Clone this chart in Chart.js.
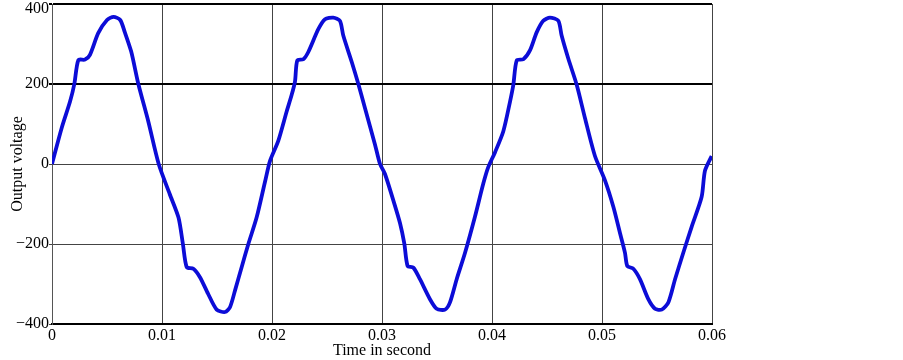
<!DOCTYPE html>
<html>
<head>
<meta charset="utf-8">
<script src="https://cdn.jsdelivr.net/npm/chart.js@4.4.1/dist/chart.umd.min.js"></script>
<style>
  html, body { margin: 0; padding: 0; background: #fff; }
  #wrap { width: 903px; height: 360px; position: relative; }
</style>
</head>
<body>
<div id="wrap"><canvas id="c" width="903" height="360"></canvas></div>
<script>
// Time samples (s)
const timeSec = [
  0, 0.00088, 0.00164, 0.00203, 0.0024, 0.0030, 0.00345, 0.0042, 0.0050, 0.0056,
  0.0062, 0.0066, 0.0072, 0.00785, 0.00875, 0.0097, 0.0107, 0.0115, 0.0119, 0.01225,
  0.01285, 0.01345, 0.0142, 0.01497, 0.01573, 0.01618, 0.01664, 0.01724, 0.01785, 0.0186,
  0.01936, 0.01982, 0.02057, 0.02134, 0.02179, 0.02209, 0.0223, 0.02285, 0.0233, 0.02421,
  0.02482, 0.02557, 0.02618, 0.02648, 0.02725, 0.02785, 0.02845, 0.02936, 0.02982, 0.03027,
  0.03103, 0.03164, 0.03203, 0.03233, 0.03285, 0.03345, 0.03436, 0.03497, 0.03573, 0.03618,
  0.03679, 0.03755, 0.03845, 0.03921, 0.03966, 0.04027, 0.04103, 0.04164, 0.04194, 0.04225,
  0.04285, 0.04345, 0.04406, 0.04466, 0.04527, 0.04603, 0.04633, 0.04694, 0.0477, 0.04845,
  0.04936, 0.05027, 0.05103, 0.05164, 0.05209, 0.0523, 0.05285, 0.05345, 0.05421, 0.05482,
  0.05543, 0.05603, 0.05664, 0.05739, 0.05815, 0.05906, 0.05936, 0.05997
];
// Output voltage values
const outputVoltage = [
  0, 90, 156, 200, 260, 261, 273, 327, 360, 368,
  360, 331, 281, 200, 107, 0, -75, -134, -200, -258,
  -262, -283, -325, -364, -370, -358, -316, -258, -200, -134,
  -45, 8, 58, 132, 173, 206, 259, 262, 280, 337,
  362, 366, 358, 321, 255, 200, 140, 49, 0, -25,
  -91, -148, -199, -255, -259, -288, -338, -362, -364, -346,
  -288, -222, -132, -49, -8, 29, 82, 156, 198, 259,
  262, 284, 329, 358, 366, 358, 321, 263, 198, 115,
  20, -41, -107, -173, -222, -255, -262, -288, -338, -362,
  -364, -346, -288, -222, -157, -82, -17, 20
];
const xTicks = [0, 0.01, 0.02, 0.03, 0.04, 0.05, 0.06];
const yTicks = [-400, -200, 0, 200, 400];
const xTitle = 'Time in second';
const yTitle = 'Output voltage';

const points = timeSec.map((t, i) => ({ x: t, y: outputVoltage[i] }));
const serif = "'Liberation Serif', 'Times New Roman', serif";

// keeps the top y tick label inside the canvas, as in the reference
const nudgeTopLabel = {
  id: 'nudgeTopLabel',
  beforeDraw(chart) {
    const s = chart.scales.y;
    const items = s.getLabelItems();
    items.forEach(it => {
      if (it.label === '400' && !it._nudged) {
        it.options.translation[1] += 5;
        it._nudged = true;
      }
    });
  }
};

new Chart(document.getElementById('c'), {
  type: 'line',
  data: {
    datasets: [{
      data: points,
      borderColor: 'rgb(12,12,215)',
      borderWidth: 3.8,
      pointRadius: 0,
      tension: 0.25,
      fill: false
    }]
  },
  options: {
    responsive: false,
    animation: false,
    layout: { padding: { top: 4, right: 191, left: 0, bottom: 0 } },
    plugins: { legend: { display: false }, tooltip: { enabled: false } },
    scales: {
      x: {
        type: 'linear',
        min: 0, max: 0.06,
        afterBuildTicks: (s) => { s.ticks = xTicks.map(v => ({ value: v })); },
        afterFit: (s) => { s.height = 36; s.paddingLeft = 0; s.paddingRight = 0; },
        ticks: {
          color: '#000',
          font: { family: serif, size: 16 },
          padding: 2,
          maxRotation: 0,
          callback: (v) => v === 0 ? '0' : v.toFixed(2)
        },
        grid: { color: '#444', lineWidth: 1, drawTicks: false },
        border: { color: '#000', width: 2 },
        title: {
          display: true, text: xTitle, color: '#000',
          font: { family: serif, size: 16 }, padding: { top: 0, bottom: 0 }
        }
      },
      y: {
        min: -400, max: 400,
        afterBuildTicks: (s) => { s.ticks = yTicks.map(v => ({ value: v })); },
        afterFit: (s) => { s.width = 52; s.paddingTop = 0; s.paddingBottom = 0; },
        ticks: {
          color: '#000',
          font: { family: serif, size: 16 },
          padding: 0,
          callback: (v) => v < 0 ? '\u2212' + Math.abs(v) : String(v)
        },
        grid: {
          color: (ctx) => (ctx.tick && (ctx.tick.value === 200 || ctx.tick.value === 400)) ? '#000' : '#444',
          lineWidth: (ctx) => (ctx.tick && (ctx.tick.value === 200 || ctx.tick.value === 400)) ? 2 : 1,
          tickLength: 3
        },
        border: { color: '#555', width: 1 },
        title: {
          display: true, text: yTitle, color: '#000',
          font: { family: serif, size: 16 }, padding: { top: 8, bottom: 0 }
        }
      }
    }
  },
  plugins: [nudgeTopLabel]
});
</script>
</body>
</html>
